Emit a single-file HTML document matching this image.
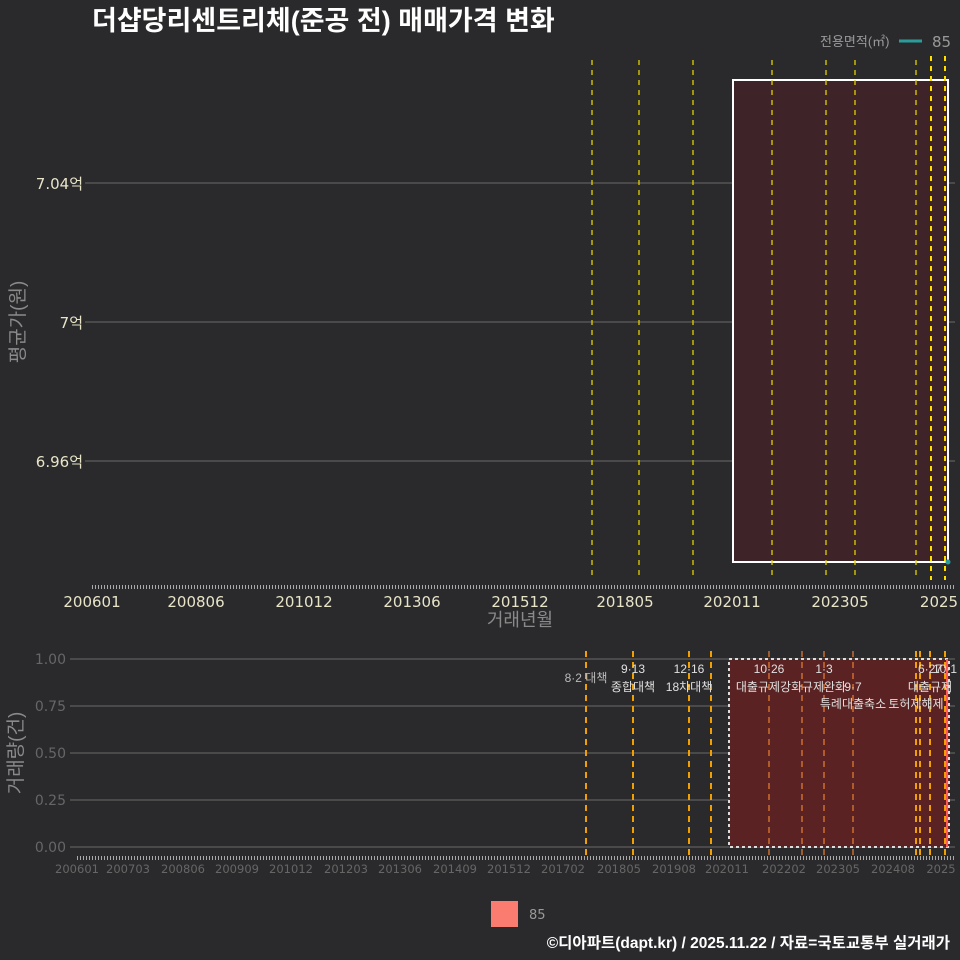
<!DOCTYPE html>
<html><head><meta charset="utf-8"><style>
html,body{margin:0;padding:0;background:#2a2a2c;}
svg{display:block;font-family:"Liberation Sans","Noto Sans CJK KR",sans-serif;}
.dj{font-family:"DejaVu Sans","Noto Sans CJK KR",sans-serif;}
</style></head><body>
<svg width="960" height="960" viewBox="0 0 960 960" xmlns="http://www.w3.org/2000/svg">
<rect width="960" height="960" fill="#2a2a2c"/>
<text x="92" y="30" font-size="27" font-weight="bold" fill="#ffffff">더샵당리센트리체(준공 전) 매매가격 변화</text>
<text x="820" y="46" font-size="13" fill="#999">전용면적(㎡)</text>
<line x1="899" y1="41" x2="922" y2="41" stroke="#2a9d9a" stroke-width="3"/>
<text x="932" y="47" font-size="15" fill="#999" class="dj">85</text>

<!-- top panel -->
<g stroke="#5e5e5e" stroke-width="1.2">
<line x1="85" y1="183" x2="955" y2="183"/>
<line x1="85" y1="322" x2="955" y2="322"/>
<line x1="85" y1="461" x2="955" y2="461"/>
</g>
<rect x="733" y="80" width="215" height="482" fill="#3e2328" stroke="#ffffff" stroke-width="2"/>
<g stroke="#e0d000" stroke-width="1.3" stroke-dasharray="5,5">
<line x1="592" y1="60" x2="592" y2="580"/>
<line x1="639" y1="60" x2="639" y2="580"/>
<line x1="693" y1="60" x2="693" y2="580"/>
<line x1="772" y1="60" x2="772" y2="580"/>
<line x1="826" y1="60" x2="826" y2="580"/>
<line x1="855" y1="60" x2="855" y2="580"/>
<line x1="916" y1="60" x2="916" y2="580"/>
</g>
<g stroke="#ffe000" stroke-width="2" stroke-dasharray="5,5">
<line x1="931" y1="56" x2="931" y2="580"/>
<line x1="945" y1="56" x2="945" y2="580"/>
</g>
<circle cx="948" cy="562" r="2.5" fill="#2a9d9a"/>
<g font-size="15" fill="#e8e4c8" text-anchor="end" class="dj">
<text x="83" y="189">7.04억</text>
<text x="83" y="328">7억</text>
<text x="83" y="467">6.96억</text>
</g>
<line x1="92" y1="587" x2="955" y2="587" stroke="#aaa" stroke-width="4" stroke-dasharray="1,2"/>
<g font-size="15" fill="#e8e4c8" text-anchor="middle" class="dj">
<text x="92" y="607">200601</text>
<text x="196" y="607">200806</text>
<text x="304" y="607">201012</text>
<text x="412" y="607">201306</text>
<text x="520" y="607">201512</text>
<text x="625" y="607">201805</text>
<text x="732" y="607">202011</text>
<text x="840" y="607">202305</text>
<text x="939" y="607">2025</text>
</g>
<text x="520" y="626" font-size="18" fill="#8a8a8a" text-anchor="middle">거래년월</text>
<text transform="translate(24,322) rotate(-90)" font-size="19" fill="#8a8a8a" text-anchor="middle">평균가(원)</text>

<!-- bottom panel -->
<g stroke="#5e5e5e" stroke-width="1.2">
<line x1="70" y1="659" x2="955" y2="659"/>
<line x1="70" y1="706" x2="955" y2="706"/>
<line x1="70" y1="753" x2="955" y2="753"/>
<line x1="70" y1="800" x2="955" y2="800"/>
<line x1="70" y1="847" x2="955" y2="847"/>
</g>
<rect x="729" y="659" width="220" height="188" fill="#5a2222" stroke="#dddddd" stroke-width="2" stroke-dasharray="3,3"/>
<g stroke="#f0a000" stroke-width="2" stroke-dasharray="6,5">
<line x1="586" y1="651" x2="586" y2="857"/>
<line x1="633" y1="651" x2="633" y2="857"/>
<line x1="689" y1="651" x2="689" y2="857"/>
<line x1="711" y1="651" x2="711" y2="857"/>
<line x1="916" y1="651" x2="916" y2="857"/>
<line x1="920" y1="651" x2="920" y2="857"/>
<line x1="930" y1="651" x2="930" y2="857"/>
<line x1="945" y1="651" x2="945" y2="857"/>
</g>
<g stroke="#e07830" stroke-width="1.3" stroke-dasharray="6,5">
<line x1="769" y1="651" x2="769" y2="857"/>
<line x1="802" y1="651" x2="802" y2="857"/>
<line x1="824" y1="651" x2="824" y2="857"/>
<line x1="853" y1="651" x2="853" y2="857"/>
</g>
<line x1="947" y1="659" x2="947" y2="847" stroke="#ff5a50" stroke-width="2"/>
<g font-size="12" fill="#e0e0e0" text-anchor="middle">
<text x="586" y="682" fill="#bbb">8·2 대책</text>
<text x="633" y="673">9·13</text>
<text x="633" y="691">종합대책</text>
<text x="689" y="673">12·16</text>
<text x="689" y="691">18차대책</text>
<text x="769" y="673">10·26</text>
<text x="769" y="691">대출규제강화</text>
<text x="824" y="673">1·3</text>
<text x="824" y="691">규제완화</text>
<text x="853" y="691">9·7</text>
<text x="853" y="708">특례대출축소</text>
<text x="916" y="708">토허제해제</text>
<text x="930" y="673">6·27</text>
<text x="945" y="673">10·1</text>
<text x="930" y="691">대출규제</text>
</g>
<g font-size="14" fill="#666" text-anchor="end" class="dj">
<text x="66" y="664">1.00</text>
<text x="66" y="711">0.75</text>
<text x="66" y="758">0.50</text>
<text x="66" y="805">0.25</text>
<text x="66" y="852">0.00</text>
</g>
<line x1="77" y1="858" x2="955" y2="858" stroke="#aaa" stroke-width="4" stroke-dasharray="1,2"/>
<g font-size="11.5" fill="#666" text-anchor="middle" class="dj">
<text x="77" y="873">200601</text>
<text x="128" y="873">200703</text>
<text x="183" y="873">200806</text>
<text x="237" y="873">200909</text>
<text x="291" y="873">201012</text>
<text x="346" y="873">201203</text>
<text x="400" y="873">201306</text>
<text x="455" y="873">201409</text>
<text x="509" y="873">201512</text>
<text x="563" y="873">201702</text>
<text x="619" y="873">201805</text>
<text x="674" y="873">201908</text>
<text x="727" y="873">202011</text>
<text x="784" y="873">202202</text>
<text x="838" y="873">202305</text>
<text x="893" y="873">202408</text>
<text x="941" y="873">2025</text>
</g>
<text transform="translate(22,753) rotate(-90)" font-size="19" fill="#8a8a8a" text-anchor="middle">거래량(건)</text>

<rect x="491" y="901" width="27" height="26" fill="#fa7b70"/>
<text x="529" y="919" font-size="13" fill="#999" class="dj">85</text>
<text x="950" y="948" font-size="15.5" font-weight="bold" fill="#ffffff" text-anchor="end">©디아파트(dapt.kr) / 2025.11.22 / 자료=국토교통부 실거래가</text>
</svg>
</body></html>
